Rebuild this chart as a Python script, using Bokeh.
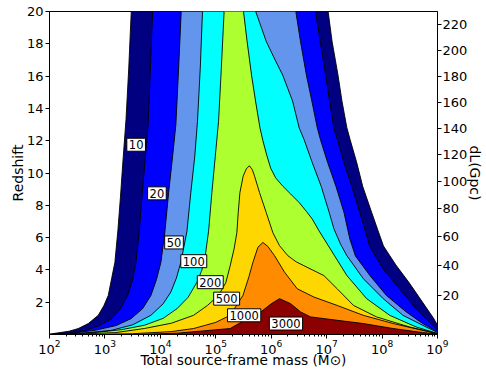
import numpy as np
from bokeh.plotting import figure
from bokeh.models import FixedTicker, LinearAxis
from bokeh.embed import file_html
from bokeh.resources import INLINE
from bokeh.core.properties import value

# ---------------- data ----------------
LEVELS = [10, 20, 50, 100, 200, 500, 1000, 3000]
COLORS = ["#000080", "#0000ff", "#6495ed", "#00ffff",
          "#adff2f", "#ffd700", "#ff8c00", "#8b0000"]

# contour boundaries as (log10 mass, redshift)
L10_LEFT = [(2.0, 0.02), (2.11, 0.08), (2.35, 0.2), (2.52, 0.37), (2.70, 0.68), (2.88, 1.19), (2.98, 1.78),
            (3.06, 2.42), (3.12, 3.45), (3.18, 4.47), (3.235, 6.5), (3.28, 8.5), (3.32, 10.5), (3.38, 13.3),
            (3.43, 16.5), (3.475, 20.0)]
L10_RIGHT = [(7.027, 20.0), (7.098, 18.15), (7.205, 16.06), (7.276, 14.46), (7.365, 12.8), (7.424, 12.06),
             (7.544, 10.63), (7.651, 9.17), (7.811, 7.57), (7.92, 6.5), (8.025, 5.48), (8.25, 4.3),
             (8.49, 3.2), (8.67, 2.3), (8.80, 1.65), (8.93, 1.0), (9.0, 0.57)]

L20_LEFT = [(2.0, 0.0), (2.35, 0.1), (2.64, 0.26), (2.9, 0.55), (3.12, 0.98), (3.28, 1.6), (3.41, 2.42),
            (3.50, 3.4), (3.56, 4.47), (3.62, 6.4), (3.675, 8.8), (3.73, 11.0), (3.78, 13.0), (3.82, 16.5),
            (3.86, 20.0)]
L20_RIGHT = [(6.80, 20.0), (6.884, 18.15), (6.982, 16.06), (7.053, 14.46), (7.128, 12.8), (7.196, 12.06),
             (7.312, 10.65), (7.455, 9.17), (7.597, 7.57), (7.69, 6.5), (7.775, 5.48), (8.02, 4.06),
             (8.316, 2.83), (8.613, 1.60), (8.85, 0.78), (9.0, 0.26)]

L50_LEFT = [(2.0, 0.0), (2.45, 0.1), (2.82, 0.26), (3.2, 0.55), (3.47, 0.98), (3.68, 1.6), (3.83, 2.42),
            (3.93, 3.4), (4.01, 4.47), (4.08, 6.3), (4.15, 8.8), (4.22, 11.0), (4.28, 13.0), (4.33, 16.5),
            (4.376, 20.0)]
L50_RIGHT = [(6.444, 20.0), (6.528, 18.15), (6.635, 16.06), (6.733, 14.46), (6.831, 12.8), (6.889, 12.06),
             (7.018, 10.65), (7.169, 9.17), (7.312, 7.57), (7.419, 5.91), (7.52, 4.86), (7.781, 3.65),
             (8.078, 2.42), (8.435, 1.40), (8.733, 0.68), (9.0, 0.16)]

L100_LEFT = [(2.0, 0.0), (2.6, 0.08), (3.12, 0.26), (3.5, 0.6), (3.83, 1.19), (4.05, 1.9), (4.19, 2.63),
             (4.29, 3.5), (4.37, 4.47), (4.48, 6.4), (4.55, 8.8), (4.62, 11.0), (4.67, 13.2), (4.72, 16.5),
             (4.76, 20.0)]
L100_RIGHT = [(5.72, 20.0), (5.91, 18.15), (6.07, 17.0), (6.207, 16.06), (6.385, 14.46), (6.504, 12.8),
              (6.594, 12.06), (6.742, 10.63), (6.902, 9.17), (7.045, 7.57), (7.134, 6.52), (7.25, 5.6),
              (7.365, 4.88), (7.663, 3.45), (8.02, 2.22), (8.376, 1.19), (8.733, 0.57), (9.0, 0.12)]

L200_LEFT = [(2.0, 0.0), (2.82, 0.12), (3.3, 0.3), (3.71, 0.57), (4.05, 1.0), (4.30, 1.6), (4.5, 2.3),
             (4.66, 3.24), (4.75, 4.0), (4.81, 4.88), (4.87, 6.4), (4.93, 8.8), (4.99, 11.0), (5.05, 13.2),
             (5.10, 16.5), (5.15, 20.0)]
L200_RIGHT = [(5.50, 20.0), (5.565, 18.15), (5.645, 16.06), (5.717, 14.46), (5.797, 12.80), (5.85, 12.0),
              (5.92, 11.1), (5.99, 10.3), (6.08, 9.7), (6.207, 9.19), (6.35, 8.7), (6.504, 8.17),
              (6.64, 7.6), (6.742, 7.14), (6.866, 6.40), (7.068, 5.29), (7.365, 3.65), (7.722, 2.22),
              (8.137, 1.19), (8.613, 0.47), (9.0, 0.06)]

L500_LEFT = [(2.3, 0.0), (3.2, 0.12), (3.71, 0.37), (4.2, 0.7), (4.60, 1.19), (4.85, 1.8), (5.05, 2.42),
             (5.18, 3.2), (5.26, 4.26), (5.33, 5.3), (5.38, 6.3), (5.405, 7.55), (5.435, 8.78),
             (5.494, 9.8), (5.55, 10.25), (5.606, 10.45)]
L500_RIGHT = [(5.606, 10.45), (5.66, 10.2), (5.70, 9.8), (5.79, 8.78), (5.91, 7.55), (6.03, 6.3),
              (6.15, 5.5), (6.30, 4.88), (6.45, 4.5), (6.59, 4.26), (6.95, 3.65), (7.19, 2.83),
              (7.485, 1.8), (7.90, 1.09), (8.49, 0.47), (9.0, 0.05)]

L1000_LEFT = [(2.6, 0.0), (3.5, 0.05), (4.2, 0.18), (4.60, 0.37), (5.0, 0.75), (5.26, 1.19), (5.49, 2.42),
              (5.60, 3.6), (5.67, 4.47), (5.76, 5.4), (5.85, 5.70)]
L1000_RIGHT = [(5.85, 5.70), (5.94, 5.45), (6.06, 4.88), (6.24, 3.86), (6.47, 2.83), (6.77, 2.32),
               (7.19, 1.80), (7.66, 1.19), (8.20, 0.68), (8.73, 0.26), (9.0, 0.05)]

L3000_LEFT = [(3.5, 0.0), (4.30, 0.08), (5.26, 0.37), (5.52, 0.88), (5.74, 1.2), (6.0, 1.9), (6.15, 2.22)]
L3000_RIGHT = [(6.15, 2.22), (6.35, 1.91), (6.53, 1.40), (6.71, 1.09), (7.19, 0.88), (7.66, 0.68),
               (8.20, 0.37), (8.73, 0.12), (9.0, 0.03)]

BOUNDARIES = [(L10_LEFT, L10_RIGHT), (L20_LEFT, L20_RIGHT), (L50_LEFT, L50_RIGHT),
              (L100_LEFT, L100_RIGHT), (L200_LEFT, L200_RIGHT), (L500_LEFT, L500_RIGHT),
              (L1000_LEFT, L1000_RIGHT), (L3000_LEFT, L3000_RIGHT)]

# inline contour labels
LABEL_TEXT = ["10", "20", "50", "100", "200", "500", "1000", "3000"]
LABEL_LOGM = [3.563, 3.938, 4.246, 4.603, 4.90, 5.196, 5.512, 6.266]
LABEL_Z = [11.75, 8.74, 5.70, 4.54, 3.24, 2.22, 1.19, 0.68]

# axes
X_EXP = [2, 3, 4, 5, 6, 7, 8, 9]
Z_TICKS = [2, 4, 6, 8, 10, 12, 14, 16, 18, 20]
DL_TICKS = [20, 40, 60, 80, 100, 120, 140, 160, 180, 200, 220]  # Gpc

# ---------------- right axis: luminosity distance -> redshift ----------------
H0, OM = 67.74, 0.3089
zg = np.linspace(0, 30, 30001)
Ez = np.sqrt(OM * (1 + zg) ** 3 + (1 - OM))
dc = np.concatenate([[0.0], np.cumsum(0.5 * (1 / Ez[1:] + 1 / Ez[:-1]) * np.diff(zg))]) * 299792.458 / H0
dl_gpc = (1 + zg) * dc / 1000.0
z_of_dl = [round(float(np.interp(d, dl_gpc, zg)), 6) for d in DL_TICKS]

# ---------------- figure ----------------
FONT = "DejaVu Sans"
p = figure(width=486, height=370, x_axis_type="log",
           x_range=(10.0 ** X_EXP[0], 10.0 ** X_EXP[-1]), y_range=(0, 20),
           output_backend="svg", toolbar_location=None,
           min_border_left=49, min_border_right=44, min_border_top=11, min_border_bottom=34)
p.xgrid.visible = False
p.ygrid.visible = False
p.outline_line_color = "black"
p.outline_line_width = 1
p.background_fill_color = "white"
p.border_fill_color = "white"

# filled regions
pxs, pys = [], []
for left, right in BOUNDARIES:
    pts = left + right
    ms = [m for m, _ in pts] + [right[-1][0], left[0][0]]
    zs = [z for _, z in pts] + [0.0, 0.0]
    pxs.append([10.0 ** m for m in ms])
    pys.append(zs)
p.patches(xs=pxs, ys=pys, fill_color=COLORS, line_color=None)

# contour lines
lxs, lys = [], []
for left, right in BOUNDARIES:
    for curve in (left, right):
        lxs.append([10.0 ** m for m, _ in curve])
        lys.append([z for _, z in curve])
p.multi_line(xs=lxs, ys=lys, line_color="black", line_width=0.9, line_join="round")

# contour labels
p.text(x=[10.0 ** m for m in LABEL_LOGM], y=LABEL_Z, text=LABEL_TEXT,
       text_font=value(FONT), text_font_size="11.5px", text_color="black",
       text_align="center", text_baseline="middle",
       background_fill_color="white", border_line_color="black", border_line_width=1,
       padding=2)

# axes styling
def style(ax):
    ax.major_label_text_font = FONT
    ax.major_label_text_font_size = "13px"
    ax.major_label_text_color = "black"
    ax.axis_line_color = "black"
    ax.major_tick_line_color = "black"
    ax.minor_tick_line_color = "black"
    ax.major_tick_in = 0
    ax.major_tick_out = 4
    ax.minor_tick_in = 0
    ax.minor_tick_out = 2
    ax.major_label_standoff = 2
    ax.axis_label_text_font = FONT
    ax.axis_label_text_font_size = "14px"
    ax.axis_label_text_font_style = "normal"
    ax.axis_label_text_color = "black"

xminor = [k * 10.0 ** e for e in X_EXP[:-1] for k in range(2, 10)]
p.xaxis.ticker = FixedTicker(ticks=[10.0 ** e for e in X_EXP], minor_ticks=xminor)
p.yaxis.ticker = FixedTicker(ticks=Z_TICKS)
style(p.xaxis[0])
style(p.yaxis[0])
p.xaxis[0].major_label_standoff = 1
p.xaxis[0].axis_label = "Total source-frame mass (M\u2299)"
p.xaxis[0].axis_label_text_font_size = "13.7px"
p.xaxis[0].axis_label_standoff = -5
p.yaxis[0].axis_label = "Redshift"
p.yaxis[0].axis_label_standoff = -2

right_ax = LinearAxis(ticker=FixedTicker(ticks=z_of_dl),
                      major_label_overrides={z: str(d) for z, d in zip(z_of_dl, DL_TICKS)})
style(right_ax)
right_ax.major_label_standoff = 1
right_ax.axis_label = "dL(Gpc)"
right_ax.axis_label_standoff = -3
p.add_layout(right_ax, "right")

open("out.html", "w").write(file_html(p, INLINE))
